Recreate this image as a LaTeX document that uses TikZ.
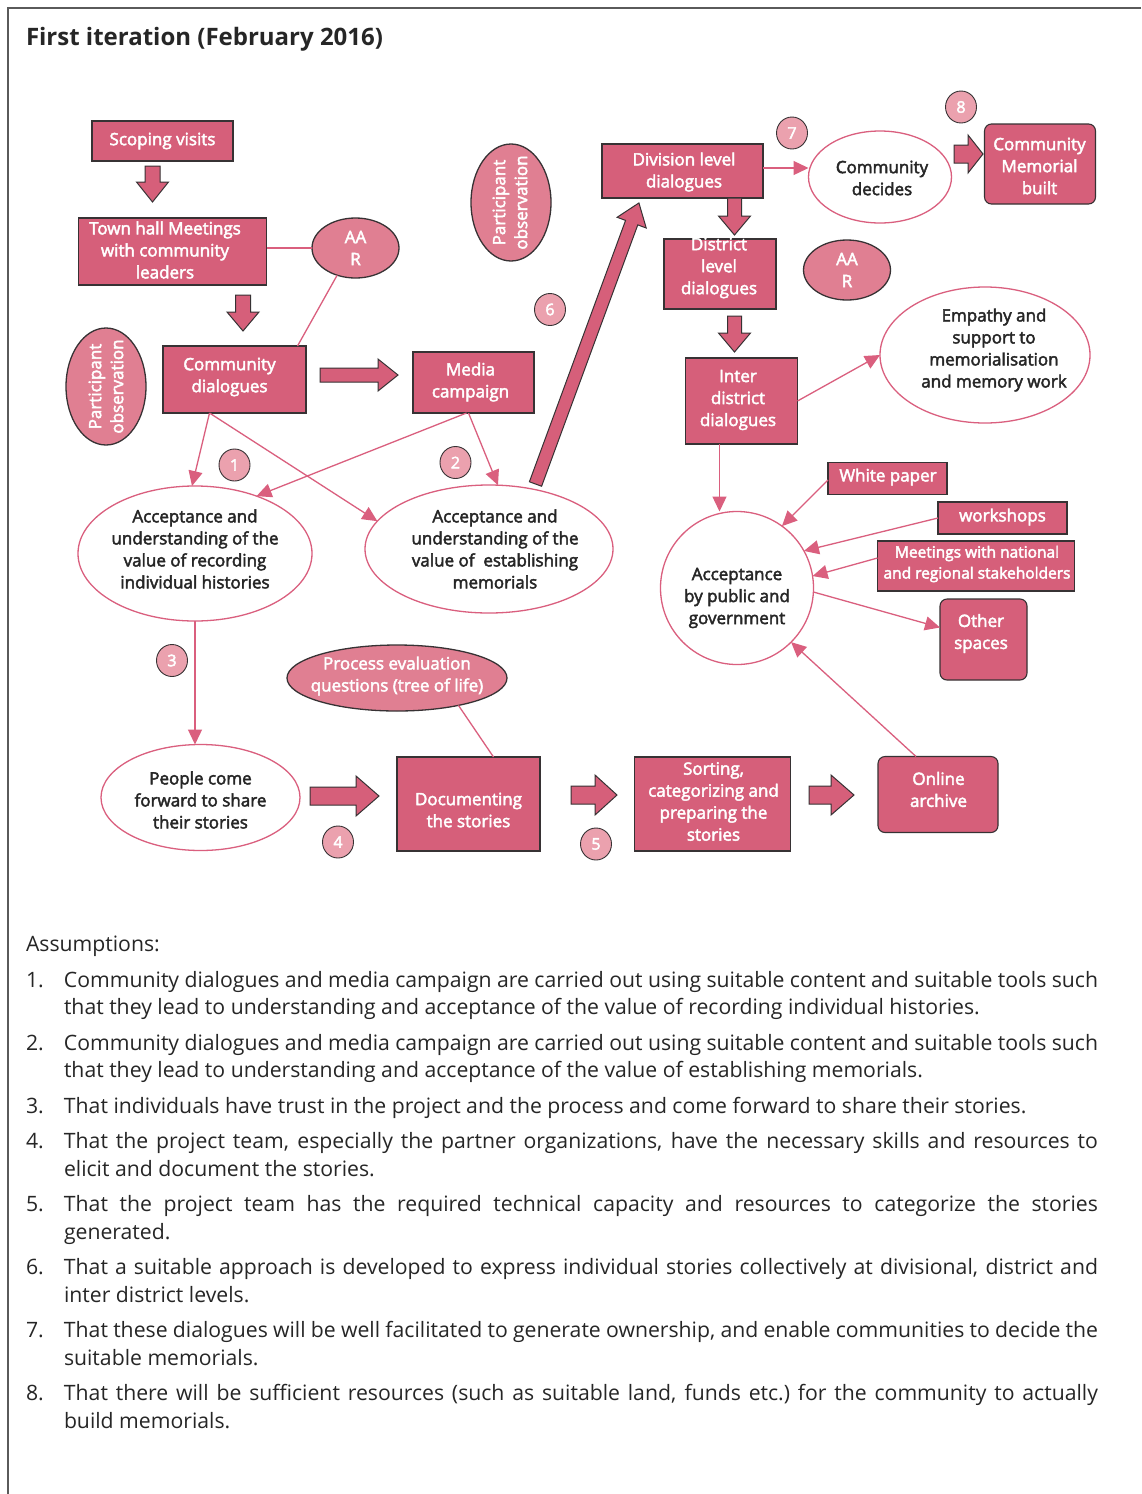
\documentclass[tikz,border=0pt]{standalone}
\usepackage{fontspec}
\setmainfont{Open Sans}
\usetikzlibrary{shapes.geometric,arrows.meta,backgrounds}

\definecolor{boxfill}{RGB}{214,95,122}
\definecolor{ovalfill}{RGB}{224,127,146}
\definecolor{numfill}{RGB}{235,161,174}
\definecolor{linkpink}{RGB}{218,95,126}
\definecolor{edge}{RGB}{55,50,52}
\definecolor{ink}{RGB}{38,38,38}
\definecolor{framegray}{RGB}{90,90,90}

% diagram labels are set a little heavier: glyphs are filled and stroked
\newcommand\heavy{\special{pdf:literal direct 2 Tr 0.45 w}}
\newcommand\plain{\special{pdf:literal direct 0 Tr}}
\newcommand\dtext{\fontsize{17}{22}\selectfont\heavy}
\newcommand\stext{\fontsize{15.5}{21}\selectfont\heavy}
\newcommand\ntext{\fontsize{16}{18}\selectfont\heavy}
\newcommand\atext{\fontsize{21.2}{27.5}\selectfont\plain}

% block arrow: x, y, angle, length, shaft half width, head half width, head length
\newcommand\blockarrow[7]{%
  \begin{scope}[shift={(#1,#2)}, rotate=#3]
    \path[blockarr] (0,-#5) -- ({#4-#7},-#5) -- ({#4-#7},-#6) -- (#4,0)
      -- ({#4-#7},#6) -- ({#4-#7},#5) -- (0,#5) -- cycle;
  \end{scope}}

\tikzset{
  every node/.style={inner sep=0pt, outer sep=0pt},
  box/.style={rectangle, draw=edge, line width=1.1pt, fill=boxfill, text=white, align=center, font=\dtext},
  rbox/.style={box, rounded corners=7pt},
  oval/.style={ellipse, draw=edge, line width=1.3pt, fill=ovalfill, text=white, align=center, font=\dtext},
  result/.style={ellipse, draw=linkpink, line width=1.3pt, fill=white, text=ink, align=center, font=\dtext},
  num/.style={ellipse, draw=edge, line width=0.9pt, fill=numfill, text=white, minimum width=31pt, minimum height=32pt, font=\ntext},
  wlabel/.style={text=white, font=\dtext, align=center},
  dlabel/.style={text=ink, font=\dtext, align=center},
  link/.style={draw=linkpink, line width=1.3pt},
  linkarrow/.style={link, -{Triangle[length=15pt,width=14pt]}},
  blockarr/.style={draw=edge, line width=1pt, fill=boxfill, line join=miter},
}

\begin{document}
\begin{tikzpicture}[x=1pt, y=-1pt]
\useasboundingbox (0,0) rectangle (1141,1494);
\fill[white] (0,0) rectangle (1141,1494);

% frame
\draw[framegray, line width=1.6pt] (1141,8) -- (8,8) -- (8,1494);

% title
\node[anchor=base west, font=\fontsize{24}{28}\selectfont\bfseries\plain, text=ink] (title) at (26,45) {First iteration (February 2016)};

% ---------- left column ----------
\node[box, minimum width=141pt, minimum height=40pt] (scoping) at (162.5,141) {Scoping visits};
\node[box, minimum width=188pt, minimum height=67pt] (town) at (172.5,251.5) {};
\node[wlabel] (town-t) at (165,250) {Town hall Meetings\\with community\\leaders};
\node[oval, minimum width=87pt, minimum height=60pt] (aarL) at (355.5,248) {AA\\R};
\node[box, minimum width=143pt, minimum height=67pt] (comm) at (234.5,379.5) {};
\node[wlabel] (comm-t) at (229.5,377) {Community\\dialogues};
\node[box, minimum width=121pt, minimum height=61pt] (media) at (473.5,382.5) {};
\node[wlabel] (media-t) at (470.5,382) {Media\\campaign};
\node[oval, minimum width=80pt, minimum height=117pt] (poL) at (106,386.5) {};
\node[wlabel, rotate=90] (poL-t) at (106,386.5) {Participant\\observation};

\node[result, minimum width=234pt, minimum height=135pt] (accRec) at (195,553.5) {};
\node[dlabel] (accRec-t) at (195,549) {Acceptance and\\understanding of the\\value of recording\\individual histories};
\node[result, minimum width=248pt, minimum height=128pt] (accMem) at (489,549) {};
\node[dlabel] (accMem-t) at (495,549) {Acceptance and\\understanding of the\\value of\ \ establishing\\memorials};

\node[oval, minimum width=220pt, minimum height=66pt] (proc) at (397,678) {};
\node[wlabel] (proc-t) at (397,676) {Process evaluation\\questions (tree of life)};
\node[result, minimum width=199pt, minimum height=106pt] (people) at (200.5,797.5) {};
\node[dlabel] (people-t) at (200.5,800) {People come\\forward to share\\their stories};
\node[box, minimum width=143pt, minimum height=94pt] (doc) at (468.5,804) {};
\node[wlabel] (doc-t) at (468.5,810) {Documenting\\the stories};
\node[box, minimum width=156pt, minimum height=94pt] (sort) at (712.5,804) {};
\node[wlabel] (sort-t) at (713.5,801.5) {Sorting,\\categorizing and\\preparing the\\stories};
\node[rbox, minimum width=120pt, minimum height=76pt] (online) at (938,794.5) {};
\node[wlabel] (online-t) at (938.5,789.5) {Online\\archive};

% ---------- right column ----------
\node[oval, minimum width=80pt, minimum height=117pt] (poR) at (511,202.5) {};
\node[wlabel, rotate=90] (poR-t) at (510,202.5) {Participant\\observation};
\node[box, minimum width=161pt, minimum height=54pt] (division) at (682.5,171) {};
\node[wlabel] (division-t) at (684,172) {Division level\\dialogues};
\node[box, minimum width=112pt, minimum height=70pt] (district) at (720,274) {};
\node[wlabel] (district-t) at (719,268) {District\\level\\dialogues};
\node[box, minimum width=112pt, minimum height=86pt] (inter) at (741.5,401) {};
\node[wlabel] (inter-t) at (738,400) {Inter\\district\\dialogues};
\node[oval, minimum width=87pt, minimum height=60pt] (aarR) at (847,270) {AA\\R};
\node[result, minimum width=143pt, minimum height=92pt] (decides) at (880,177) {};
\node[dlabel] (decides-t) at (882,178) {Community\\decides};
\node[rbox, minimum width=111pt, minimum height=80pt] (memorial) at (1040,164) {};
\node[wlabel] (memorial-t) at (1039.5,166) {Community\\Memorial\\built};
\node[result, minimum width=210pt, minimum height=136pt] (empathy) at (985,355) {};
\node[dlabel] (empathy-t) at (994,350) {Empathy and\\support to\\memorialisation\\and memory work};

\node[result, circle, minimum size=153pt] (gov) at (737,588) {};
\node[dlabel] (gov-t) at (737,598) {Acceptance\\by public and\\government};
\node[box, minimum width=119pt, minimum height=32pt] (white) at (887.5,478.5) {};
\node[wlabel] (white-t) at (888,477) {White paper};
\node[box, minimum width=129pt, minimum height=32pt] (workshops) at (1002.5,518) {};
\node[wlabel] (workshops-t) at (1002.5,517) {workshops};
\node[box, minimum width=197pt, minimum height=50pt] (meetings) at (976,566) {};
\node[wlabel, font=\stext] (meetings-t) at (977,564) {Meetings with national\\and regional stakeholders};
\node[rbox, minimum width=87pt, minimum height=81pt] (other) at (983.5,639.5) {};
\node[wlabel] (other-t) at (981,633.5) {Other\\spaces};

% ---------- assumption numbers ----------
\node[num] (n1) at (234.5,465) {1};
\node[num] (n2) at (455.5,462.5) {2};
\node[num] (n3) at (172,660.5) {3};
\node[num] (n4) at (338,842) {4};
\node[num] (n5) at (596,844) {5};
\node[num] (n6) at (550,309.5) {6};
\node[num] (n7) at (792,133) {7};
\node[num] (n8) at (961,107) {8};

% ---------- thin connectors ----------
\begin{scope}[on background layer]
  \draw[link] ([yshift=4pt]poL.center) -- ([yshift=4pt]poL.center -| comm.west);
  \draw[link] ([yshift=41.5pt]poR.center) -- ([yshift=41.5pt]poR.center -| division.west);
  \draw[link] ([yshift=3.5pt]poR.center) -- (604,199) -- (604,286) -- ([yshift=-12pt]district.west);
  \draw[link] ([yshift=-37.5pt]poR.center) -- (596,240) -- (596,418) -- ([yshift=-17pt]inter.west);
\end{scope}

\draw[link] (town.east |- aarL.west) -- (aarL.west);
\draw[link] (aarL.-124) -- ([xshift=63pt]comm.north);
\draw[link] (proc.-24) -- ([xshift=25pt]doc.north);

\draw[linkarrow] ([xshift=-25pt]comm.south) -- ([xshift=-3pt]accRec.north);
\draw[linkarrow] ([xshift=-25pt]comm.south) -- (accMem.166);
\draw[linkarrow] ([xshift=-7pt]media.south) -- (accRec.43);
\draw[linkarrow] ([xshift=-5pt]media.south) -- (accMem.82);
\draw[linkarrow] (accRec.south) -- (accRec.south |- people.north);

\draw[linkarrow] ([yshift=3pt]division.east) -- ([yshift=3pt]division.east -| decides.west);
\draw[linkarrow] (inter.east) -- (empathy.west);
\draw[linkarrow] ([xshift=-22pt]inter.south) -- ([xshift=-22pt]inter.south |- gov.north);
\draw[linkarrow] ([yshift=-1.5pt]white.west) -- (gov.54);
\draw[linkarrow] (workshops.west) -- (gov.29);
\draw[linkarrow] ([yshift=8pt]meetings.west) -- (gov.9);
\draw[linkarrow] (gov.-3) -- ([yshift=12pt]other.west);
\draw[linkarrow] ([xshift=-22pt]online.north) -- (gov.-45);

% ---------- block arrows ----------
\blockarrow{152.5}{166}{-90}{36}{7.5}{16}{20}
\blockarrow{243}{295}{-90}{36}{7.5}{16}{19}
\blockarrow{320}{375}{0}{78}{7}{16}{20}
\blockarrow{734.5}{198}{-90}{37}{7}{16}{19}
\blockarrow{734.5}{316}{-90}{36}{7}{16}{19}
\blockarrow{954}{154}{0}{29}{9}{19}{15}
\blockarrow{535.5}{484}{69.8}{299.5}{6.5}{15.5}{21}
\blockarrow{310}{796}{0}{69}{9}{20}{23}
\blockarrow{571}{795}{0}{46}{9}{20}{22}
\blockarrow{809}{795}{0}{45}{9}{20}{23}

% ---------- assumptions ----------
\node[anchor=north west, text width=1072pt, font=\atext, text=ink, align=justify] (assume) at (26,936) {%
\parindent=0pt\parskip=8pt
Assumptions:\par
\hangindent=38pt\hangafter=1\makebox[38pt][l]{1.}Community dialogues and media campaign are carried out using suitable content and suitable tools such\linebreak that they lead to understanding and acceptance of the value of recording individual histories.\par
\hangindent=38pt\hangafter=1\makebox[38pt][l]{2.}Community dialogues and media campaign are carried out using suitable content and suitable tools such\linebreak that they lead to understanding and acceptance of the value of establishing memorials.\par
\hangindent=38pt\hangafter=1\makebox[38pt][l]{3.}That individuals have trust in the project and the process and come forward to share their stories.\par
\hangindent=38pt\hangafter=1\makebox[38pt][l]{4.}That the project team, especially the partner organizations, have the necessary skills and resources to\linebreak elicit and document the stories.\par
\hangindent=38pt\hangafter=1\makebox[38pt][l]{5.}That the project team has the required technical capacity and resources to categorize the stories\linebreak generated.\par
\hangindent=38pt\hangafter=1\makebox[38pt][l]{6.}That a suitable approach is developed to express individual stories collectively at divisional, district and\linebreak inter district levels.\par
\hangindent=38pt\hangafter=1\makebox[38pt][l]{7.}That these dialogues will be well facilitated to generate ownership, and enable communities to decide the\linebreak suitable memorials.\par
\hangindent=38pt\hangafter=1\makebox[38pt][l]{8.}That there will be sufficient resources (such as suitable land, funds etc.)\ for the community to actually\linebreak build memorials.\par};

\end{tikzpicture}
\end{document}
